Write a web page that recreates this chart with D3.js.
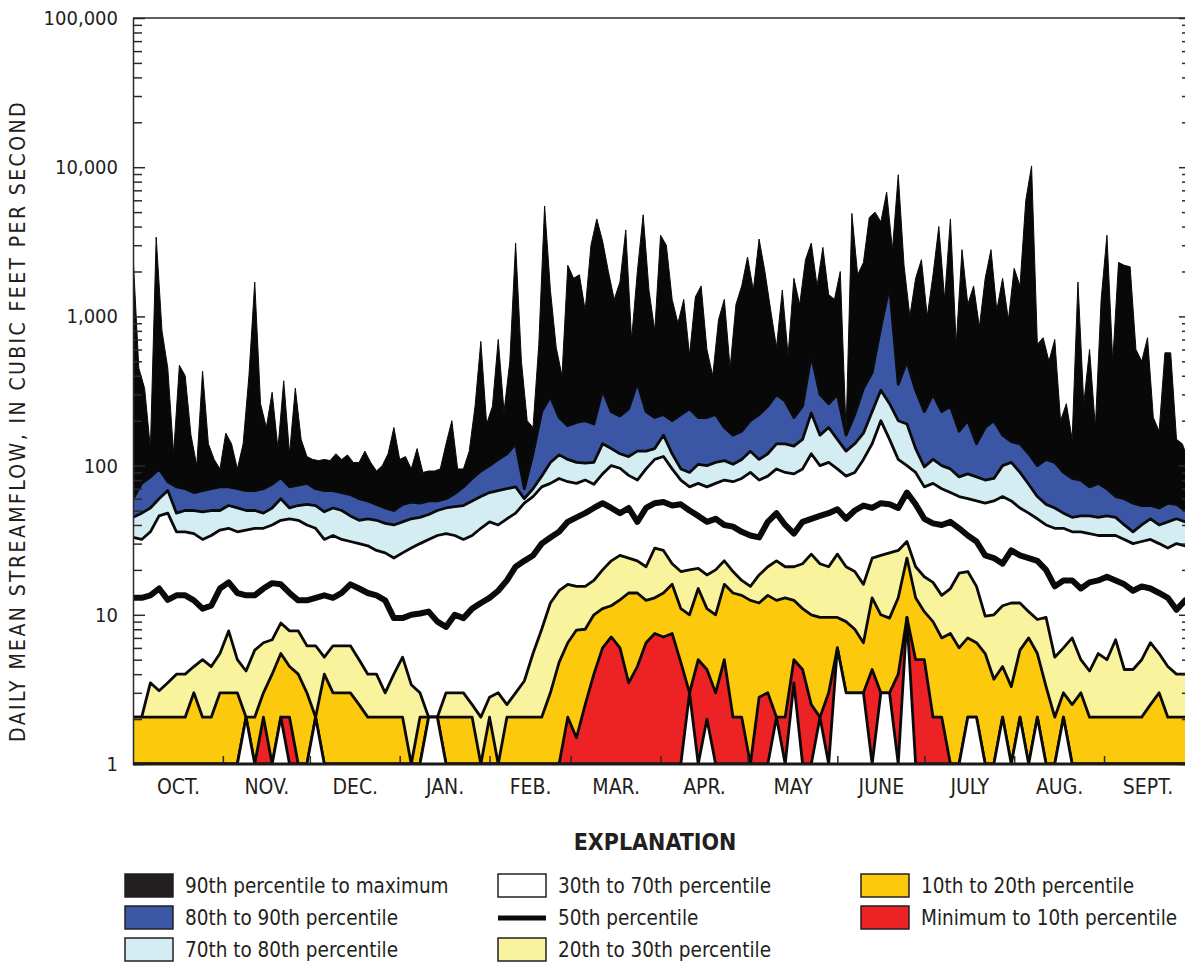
<!DOCTYPE html>
<html>
<head>
<meta charset="utf-8">
<script src="https://cdn.jsdelivr.net/npm/d3@7"></script>
<style>
  body { margin: 0; background: #fff; }
  text { font-family: "Liberation Sans Narrow", "DejaVu Sans Condensed", "Arial Narrow", sans-serif; fill: #231f20; }
</style>
</head>
<body>
<script>
// water year Oct 1 - Sep 30, values in cubic feet per second
// maximum sampled every 2 days, the percentiles every 3 days
var maxFlow = [2600,450,330,130,3400,800,450,120,470,400,160,100,430,140,110,95,165,140,95,140,
  400,1700,260,180,310,130,370,120,330,150,115,110,108,110,108,120,110,118,105,105,
  125,105,92,100,120,180,110,115,95,130,90,92,92,95,140,200,95,95,125,250,
  680,190,250,700,230,500,3100,500,200,180,650,5500,1500,620,400,2200,1800,1900,1100,3000,
  4500,3200,2000,1300,1700,3800,700,2000,4800,1500,800,3500,3000,1300,900,1300,550,1350,1600,600,
  400,950,1300,450,1200,1600,2500,1500,3300,2000,1100,620,1500,550,1800,1200,2400,3100,1600,2900,
  1400,1300,2000,170,4900,1900,2300,4600,5000,4300,6800,2800,8900,2200,1000,1800,2400,1000,1900,4000,
  1300,4500,650,2800,1200,1600,850,1800,2800,1100,1800,950,2100,1600,6000,10200,650,720,500,700,
  200,260,150,1700,260,600,180,1300,3500,500,2300,2200,2150,600,500,720,210,170,570,570,
  150,140,110];

var p90 = [60,76,84,95,78,72,70,66,68,70, 72,72,70,68,68,70,75,83,72,74,
  76,70,68,68,66,64,60,58,55,52, 50,55,57,56,58,58,60,65,72,82,
  92,100,110,120,140,70,120,230,290,210, 185,195,200,190,320,230,215,240,360,230,
  210,220,200,220,240,210,210,220,180,160, 170,200,220,250,300,270,210,250,550,300,
  260,300,160,220,330,420,850,1600,350,500, 320,230,300,230,250,170,200,140,180,200,
  160,145,140,120,100,110,105,90,82,80, 72,76,70,62,60,56,54,54,52,56, 55,50];

var p80 = [45,48,52,60,68,48,50,50,49,50, 50,54,52,50,50,48,52,60,52,54,
  55,54,49,52,50,46,43,44,43,41, 40,42,44,45,47,50,52,53,54,58,
  62,66,68,70,72,60,70,85,105,118, 110,105,104,105,140,130,120,115,125,125,
  130,160,120,95,90,102,100,105,108,102, 110,125,110,120,140,140,135,150,225,160,
  180,150,125,140,165,230,320,260,200,190, 130,98,110,100,95,84,88,84,80,82,
  100,105,90,75,62,55,52,48,45,46, 46,45,46,45,40,36,40,44,40,42, 44,42];

var p70 = [33,32,36,46,48,36,36,35,32,34, 37,38,36,37,38,38,40,43,44,43,
  40,38,32,34,32,31,30,29,27,26, 24,26,28,30,32,34,35,34,32,34,
  38,42,40,44,48,56,62,72,76,82, 78,76,80,75,88,100,96,86,80,95,
  110,115,95,80,72,76,72,76,80,78, 82,90,80,85,95,90,88,95,120,100,
  105,95,85,90,110,140,200,150,110,100, 90,72,76,70,66,62,60,58,56,58,
  62,58,52,48,44,40,38,38,36,36, 35,34,34,34,32,30,31,32,30,28, 30,29];

var p50 = [13,13,13.5,15,12.6,13.5,13.5,12.5,11,11.5, 15,16.5,14,13.5,13.5,15,16.3,16,14,12.5,
  12.5,13,13.5,13,14,16,15,14,13.5,12.5, 9.5,9.5,10,10.2,10.5,9,8.3,10,9.5,11,
  12,13,14.5,17,21,23,25,30,33,36, 42,45,48,52,56,52,48,52,42,52,
  56,57,54,55,50,46,42,44,40,39, 36,34,33,42,48,40,35,42,44,46,
  48,51,44,50,54,52,56,55,52,66, 55,44,41,40,42,38,34,31,25,24,
  22,27,25,24,23,20,15.5,17,17,15, 16.5,17,18,17,16,14.5,15.5,15,14,13, 10.8,12.5];

var p30 = [2.06,2.06,3.5,3.1,3.5,4,4,4.5,5,4.5, 5.5,7.8,5,4.2,5.8,6.5,6.8,8.8,7.8,7.8,
  6.2,6.2,5.2,6.2,6.2,6.2,5,4,4,3, 4,5.2,3.4,3,2.06,2.06,3,3,3,2.5,
  2.06,2.8,3,2.5,3,3.6,5.5,8,12,14.5, 16,15.5,15.5,17,20,23,25,24,23,21,
  28,27,22,19.5,20,20.5,18.5,20,23,19.5, 17,15.5,18.5,21,23,21,21,22,25.5,22,
  21,25.5,21,19.5,16,24,25,26,27,31, 21,18,16.5,13.5,15,19,19.5,15.5,9.8,10,
  11.5,12,12,10.5,9.3,9.6,5.2,6,7,5, 4.2,5.5,5,6.8,4.3,4.3,5,6.5,5.5,4.5, 4,4];

var p20 = [2.06,2.06,2.06,2.06,2.06,2.06,2.06,3,2.06,2.06, 3,3,3,2.06,2.06,3,4,5.5,4.5,4,
  3,2.06,4,3,3,3,2.5,2.06,2.06,2.06, 2.06,2.06,1,2.06,2.06,2.06,2.06,2.06,2.06,2.06,
  1,2.06,1,2.06,2.06,2.06,2.06,2.06,3,4.8, 6.5,7.9,8,10,11,11.5,12.6,14,14,12.5,
  13,14,16,11,10,15,11,10,16,14, 13.5,12.5,12,13.5,12.5,13,12.5,11,10,9.6,
  9.6,9.6,9,8,6.5,13,10,9.5,13,24, 13,10.5,9,7,7.5,6,7,6.5,5.5,3.7,
  4.5,3.3,5.8,7,5.5,3.3,2.06,3,2.5,3, 2.06,2.06,2.06,2.06,2.06,2.06,2.06,2.5,3,2.06, 2.06,2.06];

var p10 = [1,1,1,1,1,1,1,1,1,1, 1,1,1,2.06,1,2.06,1,2.06,2.06,1,
  1,2.06,1,1,1,1,1,1,1,1, 1,1,1,1,2.06,2.06,1,1,1,1,
  1,1,1,1,1,1,1,1,1,1, 2.06,1.5,2.5,4,6,7.1,6,3.5,4.5,6.5,
  7.5,7.1,7.5,4.8,3,5,4.3,3,5,2.06, 2.06,1,2.8,3,2.06,2.06,5,4.3,2.5,2.06,
  3,6,3,3,3,4.3,3,3,4,9.6, 5,5,2.06,2.06,1,1,2.06,2.06,1,1,
  2.06,1,2.06,1,2.06,1,1,2.06,1,1, 1,1,1,1,1,1,1,1,1,1, 1,1];

var minFlow = [1,1,1,1,1,1,1,1,1,1, 1,1,1,2.06,1,1,1,2.06,1,1,
  1,2.06,1,1,1,1,1,1,1,1, 1,1,1,1,2.06,2.06,1,1,1,1,
  1,1,1,1,1,1,1,1,1,1, 1,1,1,1,1,1,1,1,1,1,
  1,1,1,1,3,1,2,1,1,1, 1,1,1,1,2.06,1,3.5,1,1,2.06,
  1,6,3,3,3,1,3,3,1,9.6, 1,1,1,1,1,1,2.06,2.06,1,1,
  2.06,1,2.06,1,2.06,1,1,2.06,1,1, 1,1,1,1,1,1,1,1,1,1, 1,1];

var monthLabels = ["OCT.","NOV.","DEC.","JAN.","FEB.","MAR.","APR.","MAY","JUNE","JULY","AUG.","SEPT."];
var majorTicks = [1, 10, 100, 1000, 10000, 100000];

/* SVG AND SCALES */
var width = 1185, height = 962;
var plotLeft = 133, plotRight = 1191, plotTop = 18, plotBottom = 764;

var svg = d3.select("body").append("svg")
  .attr("width", width)
  .attr("height", height);

var start = new Date(Date.UTC(2001, 9, 1));
var end = new Date(Date.UTC(2002, 9, 1));

var x = d3.scaleUtc().domain([start, end]).range([plotLeft, plotRight]);
var y = d3.scaleLog().domain([1, 100000]).range([plotBottom, plotTop]).clamp(true);

function points(vals, step) {
  return vals.map(function(v, i) { return {date: d3.utcDay.offset(start, i * step), v: v}; });
}

svg.append("clipPath").attr("id", "plot")
  .append("rect").attr("x", plotLeft).attr("y", plotTop)
  .attr("width", plotRight - plotLeft).attr("height", plotBottom - plotTop);

var plot = svg.append("g").attr("clip-path", "url(#plot)");

var area = d3.area()
  .x(function(d) { return x(d.date); })
  .y0(plotBottom)
  .y1(function(d) { return y(d.v); });

var line = d3.line()
  .x(function(d) { return x(d.date); })
  .y(function(d) { return y(d.v); });

// bands are painted from the top down, each one filled to the bottom
var layers = [
  {vals: maxFlow, step: 2, fill: "#080808"},
  {vals: p90, step: 3, fill: "#3b56a4"},
  {vals: p80, step: 3, fill: "#d4edf3"},
  {vals: p70, step: 3, fill: "#ffffff"},
  {vals: p30, step: 3, fill: "#f8f39c"},
  {vals: p20, step: 3, fill: "#fdc90c"},
  {vals: p10, step: 3, fill: "#ed2224"},
  {vals: minFlow, step: 3, fill: "#ffffff"}
];

layers.forEach(function(l, i) {
  var pts = points(l.vals, l.step);
  plot.append("path").datum(pts)
    .attr("d", area)
    .attr("fill", l.fill);
  plot.append("path").datum(pts)
    .attr("d", line)
    .attr("fill", "none")
    .attr("stroke", "#0a0a0a")
    .attr("stroke-width", i == 0 ? 1 : 2.8)
    .attr("stroke-linejoin", "round");
});

// median
plot.append("path").datum(points(p50, 3))
  .attr("d", line)
  .attr("fill", "none")
  .attr("stroke", "#0a0a0a")
  .attr("stroke-width", 6)
  .attr("stroke-linejoin", "round")
  .attr("stroke-linecap", "round");

/* AXES */
var minorTicks = [];
[1, 10, 100, 1000, 10000].forEach(function(dec) {
  for (var k = 2; k <= 9; k++) minorTicks.push(dec * k);
});

var yLeft = svg.append("g").attr("transform", "translate(" + plotLeft + ",0)")
  .call(d3.axisLeft(y).tickValues(majorTicks).tickFormat(d3.format(","))
    .tickSize(-12).tickSizeOuter(0).tickPadding(15));
svg.append("g").attr("transform", "translate(" + plotLeft + ",0)")
  .call(d3.axisLeft(y).tickValues(minorTicks).tickFormat("").tickSize(-9).tickSizeOuter(0))
  .select(".domain").remove();

svg.append("g").attr("transform", "translate(" + plotRight + ",0)")
  .call(d3.axisRight(y).tickValues(majorTicks).tickFormat("").tickSize(-12).tickSizeOuter(0));
svg.append("g").attr("transform", "translate(" + plotRight + ",0)")
  .call(d3.axisRight(y).tickValues(minorTicks).tickFormat("").tickSize(-9).tickSizeOuter(0))
  .select(".domain").remove();

svg.selectAll(".domain, .tick line").attr("stroke", "#2a2a2a").attr("stroke-width", 1.5);
yLeft.selectAll("text").attr("font-size", 20).attr("font-family", null);

svg.append("line")
  .attr("x1", plotLeft).attr("x2", plotRight).attr("y1", plotTop).attr("y2", plotTop)
  .attr("stroke", "#2a2a2a").attr("stroke-width", 1.5);

// month boundaries
var months = d3.utcMonth.range(start, end);
svg.append("g").attr("transform", "translate(0," + plotBottom + ")")
  .call(d3.axisBottom(x).tickValues(months.slice(1)).tickFormat("").tickSize(-8).tickSizeOuter(0))
  .call(function(g) { g.select(".domain").remove(); })
  .selectAll("line").attr("stroke", "#2a2a2a").attr("stroke-width", 1.5);

svg.append("line")
  .attr("x1", plotLeft).attr("x2", plotRight).attr("y1", plotBottom).attr("y2", plotBottom)
  .attr("stroke", "#1a1a1a").attr("stroke-width", 3);

// month names centred in each month
var mids = months.map(function(m) {
  return new Date((m.getTime() + d3.utcMonth.offset(m, 1).getTime()) / 2);
});
var monthAxis = svg.append("g").attr("transform", "translate(0," + plotBottom + ")")
  .call(d3.axisBottom(x).tickValues(mids)
    .tickFormat(function(d, i) { return monthLabels[i]; })
    .tickSize(0).tickPadding(15));
monthAxis.select(".domain").remove();
monthAxis.selectAll("text").attr("font-size", 21).attr("font-family", null);

svg.append("text")
  .attr("transform", "translate(25,421) rotate(-90)")
  .attr("text-anchor", "middle")
  .attr("font-size", 21)
  .attr("letter-spacing", 2.4)
  .text("DAILY MEAN STREAMFLOW, IN CUBIC FEET PER SECOND");

/* LEGEND */
svg.append("text")
  .attr("x", 655).attr("y", 850)
  .attr("text-anchor", "middle")
  .attr("font-size", 23)
  .attr("font-weight", "bold")
  .text("EXPLANATION");

var legendItems = [
  {col: 0, row: 0, fill: "#231f20", label: "90th percentile to maximum"},
  {col: 0, row: 1, fill: "#3b56a4", label: "80th to 90th percentile"},
  {col: 0, row: 2, fill: "#d4edf3", label: "70th to 80th percentile"},
  {col: 1, row: 0, fill: "#ffffff", label: "30th to 70th percentile"},
  {col: 1, row: 1, fill: null, label: "50th percentile"},
  {col: 1, row: 2, fill: "#f8f39c", label: "20th to 30th percentile"},
  {col: 2, row: 0, fill: "#fdc90c", label: "10th to 20th percentile"},
  {col: 2, row: 1, fill: "#ed2224", label: "Minimum to 10th percentile"}
];
var colX = [125, 498, 861];
var rowY = [874, 906, 938];

var legend = svg.selectAll(".legend")
  .data(legendItems)
  .enter()
  .append("g")
  .attr("transform", function(d) { return "translate(" + colX[d.col] + "," + rowY[d.row] + ")"; });

legend.filter(function(d) { return d.fill; })
  .append("rect")
  .attr("width", 48).attr("height", 23)
  .attr("fill", function(d) { return d.fill; })
  .attr("stroke", "#231f20").attr("stroke-width", 1.5);

legend.filter(function(d) { return !d.fill; })
  .append("line")
  .attr("x1", 0).attr("x2", 48).attr("y1", 12).attr("y2", 12)
  .attr("stroke", "#0a0a0a").attr("stroke-width", 5);

legend.append("text")
  .attr("x", 60).attr("y", 19)
  .attr("font-size", 20.5)
  .text(function(d) { return d.label; });
</script>
</body>
</html>
